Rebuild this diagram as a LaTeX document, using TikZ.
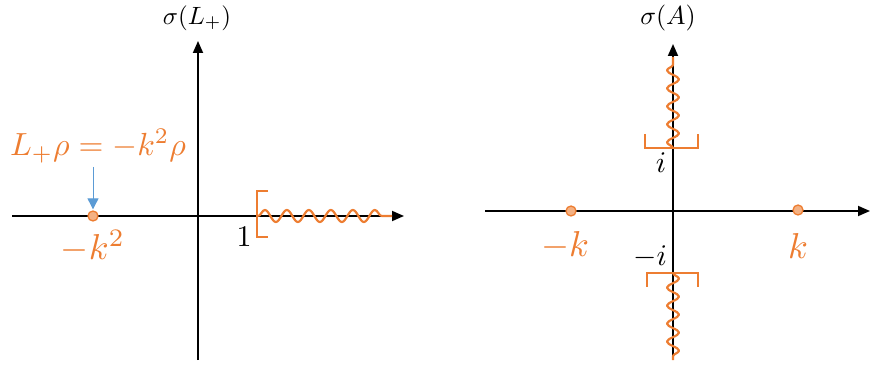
\documentclass[tikz,border=0pt]{standalone}
\usepackage{amsmath}
\usetikzlibrary{arrows.meta,positioning,decorations.pathmorphing}
\definecolor{SpecOrange}{HTML}{ED7D31}
\definecolor{DotFill}{HTML}{F4B183}
\definecolor{ArrowBlue}{HTML}{5B9BD5}
\newcommand{\bigmath}[2]{\scalebox{#1}{$#2$}}

\tikzset{
  axisline/.style={line width=1.8pt,-{Triangle[length=12pt,width=10pt]}},
  eigdot/.style={circle,draw=SpecOrange,fill=DotFill,line width=1.3pt,inner sep=0pt,minimum size=10pt},
  contspec/.style={SpecOrange,line width=2.2pt,line join=round,decorate,decoration={snake,amplitude=6pt,segment length=#1}},
  contspec/.default=22pt,
  specbracket/.style={SpecOrange,line width=1.8pt},
  speclabel/.style={text=SpecOrange,inner sep=0pt},
  axlabel/.style={inner sep=0pt}
}

\begin{document}
\begin{tikzpicture}[x=1pt,y=-1pt]
  \useasboundingbox (0,0) rectangle (870,371);

  % left: spectrum of L_+
  \coordinate (Lwest) at (12,216);
  \coordinate (Least) at (404,216);
  \coordinate (Lsouth) at (198,360);
  \coordinate (Lnorth) at (198,41);
  \draw[axisline] (Lwest) -- (Least);
  \draw[axisline] (Lsouth) -- (Lnorth);
  \node[axlabel] (Ltitle) at (197,18) {\bigmath{2.5}{\sigma(L_+)}};

  \draw[specbracket] (268,191) -- (257,191) -- (257,237) -- (268,237);
  \draw[contspec] (258,216) -- (392,216);
  \node[axlabel] (one) at (244,237) {\bigmath{3}{1}};

  \node[eigdot] (Ldot) at (93,216) {};
  \node[speclabel] (Ldotlab) at (93,246) {\bigmath{3.6}{-k^2}};
  \node[speclabel] (eqlab) at (98,146) {\bigmath{3.2}{L_+\rho=-k^2\rho}};
  \draw[ArrowBlue,line width=0.9pt,-{Triangle[length=11pt,width=11pt]},shorten <=4pt,shorten >=1pt]
    (eqlab.south -| Ldot) -- (Ldot.north);

  % right: spectrum of A
  \coordinate (Rwest) at (485,211);
  \coordinate (Reast) at (870,211);
  \coordinate (Rsouth) at (673,358);
  \coordinate (Rnorth) at (673,44);
  \draw[axisline] (Rwest) -- (Reast);
  \draw[axisline] (Rsouth) -- (Rnorth);
  \node[axlabel] (Rtitle) at (668,18) {\bigmath{2.6}{\sigma(A)}};

  \draw[specbracket] (645,134) -- (645,148) -- (698,148) -- (698,134);
  \draw[contspec=18pt] (673,148) -- (673,57);
  \node[axlabel] (iup) at (661,163) {\bigmath{3}{i}};

  \draw[specbracket] (647,287) -- (647,273) -- (698,273) -- (698,287);
  \draw[contspec=18pt] (673,273) -- (673,360);
  \node[axlabel] (idown) at (650,257) {\bigmath{3}{-i}};

  \node[eigdot] (mkdot) at (571,211) {};
  \node[eigdot] (kdot) at (798,210) {};
  \node[speclabel] (mklab) at (565,246) {\bigmath{3.6}{-k}};
  \node[speclabel] (klab) at (798,246) {\bigmath{3.6}{k}};
\end{tikzpicture}
\end{document}
